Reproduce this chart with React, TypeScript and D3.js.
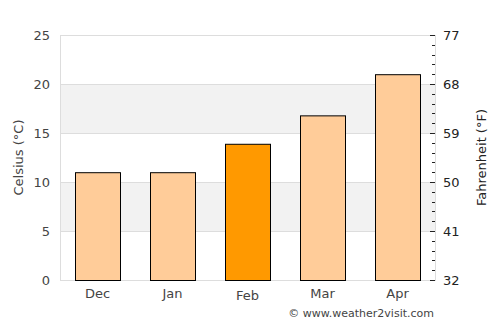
import React from "react";
import * as d3 from "d3";

const months = ["Dec", "Jan", "Feb", "Mar", "Apr"];
const celsius = [11, 11, 13.9, 16.8, 21];
const highlight = ["Feb"];
const cTicks = [0, 5, 10, 15, 20, 25];
const fTicks = [32, 41, 50, 59, 68, 77];
const bands = [[5, 10], [15, 20]];

const W = 500, H = 325;
const left = 60, right = 435, top = 35, bottom = 280;
const font = "DejaVu Sans, sans-serif";

export default function App() {
  const x = d3.scaleBand().domain(months).range([left, right]).paddingInner(0.4).paddingOuter(0.2);
  const y = d3.scaleLinear().domain([0, 25]).range([bottom, top]);
  const yF = d3.scaleLinear().domain([32, 77]).range([bottom, top]);
  const fMinor = d3.range(32, 77.01, 1.8).filter(v => !fTicks.some(t => Math.abs(t - v) < 0.01));

  return (
    <svg width={W} height={H} style={{ position: "absolute", left: 0, top: 0 }}>
      <rect x={0} y={0} width={W} height={H} fill="#fff" />
      {bands.map(([a, b], i) => (
        <rect key={i} x={left} y={y(b)} width={right - left} height={y(a) - y(b)} fill="#f2f2f2" />
      ))}
      {cTicks.map(t => (
        <line key={t} x1={left} x2={right} y1={y(t) + 0.5} y2={y(t) + 0.5} stroke="#dddddd" strokeWidth={1} />
      ))}
      <line x1={left + 0.5} x2={left + 0.5} y1={top} y2={bottom + 1} stroke="#dddddd" />
      <line x1={right + 0.5} x2={right + 0.5} y1={top} y2={bottom + 1} stroke="#dddddd" />
      {months.map((m, i) => (
        <rect key={m} x={(x(m) as number) + 0.5} y={y(celsius[i]) + 0.5} width={x.bandwidth()}
          height={y(0) - y(celsius[i])}
          fill={highlight.includes(m) ? "#ff9900" : "#ffcc99"} stroke="#000" strokeWidth={1} />
      ))}
      {cTicks.map(t => (
        <text key={t} x={50} y={y(t)} dy="0.35em" textAnchor="end" fontFamily={font} fontSize={13} fill="#444">{t}</text>
      ))}
      {fTicks.map(t => (
        <g key={t}>
          <line x1={430} x2={435} y1={yF(t) + 0.5} y2={yF(t) + 0.5} stroke="#222" />
          <text x={443} y={yF(t)} dy="0.35em" textAnchor="start" fontFamily={font} fontSize={13} fill="#222">{t}</text>
        </g>
      ))}
      {fMinor.map(t => (
        <line key={t} x1={432} x2={435} y1={Math.round(yF(t)) + 0.5} y2={Math.round(yF(t)) + 0.5} stroke="#222" />
      ))}
      {months.map(m => (
        <text key={m} x={(x(m) as number) + x.bandwidth() / 2} y={highlight.includes(m) ? 300 : 298}
          textAnchor="middle" fontFamily={font} fontSize={13} fill="#444">{m}</text>
      ))}
      <text transform={`translate(23,${(top + bottom) / 2}) rotate(-90)`} textAnchor="middle"
        fontFamily={font} fontSize={13} fill="#444">Celsius (°C)</text>
      <text transform={`translate(486,${(top + bottom) / 2}) rotate(-90)`} textAnchor="middle"
        fontFamily={font} fontSize={13} fill="#222">Fahrenheit (°F)</text>
      <text x={434} y={317} textAnchor="end" fontFamily={font} fontSize={11} fill="#444">© www.weather2visit.com</text>
    </svg>
  );
}
